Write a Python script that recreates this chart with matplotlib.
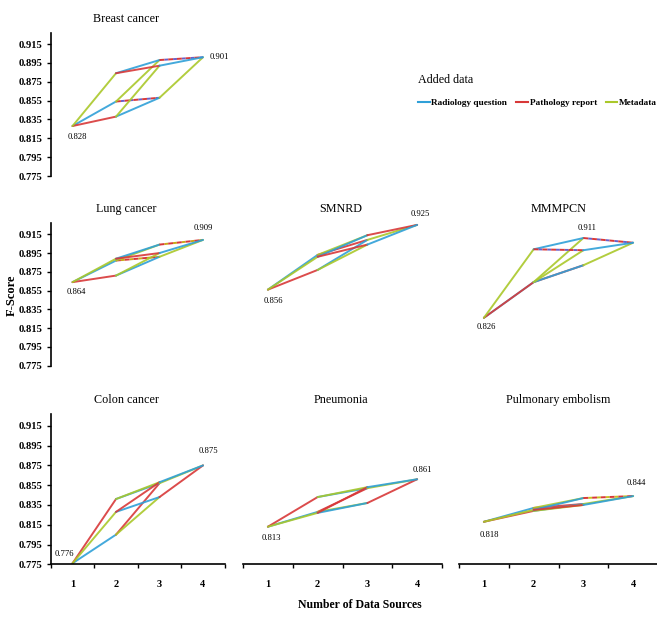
import matplotlib.pyplot as plt
from matplotlib.lines import Line2D

plt.rcParams['font.family'] = ['Liberation Serif', 'DejaVu Serif']

# nodes of the lattice: image only, one added source, two added, all three
nodes = ['I', 'R', 'P', 'M', 'RP', 'RM', 'PM', 'RPM']
n_sources = [1, 2, 2, 2, 3, 3, 3, 4]

# F-score per node (same order as nodes)
breast = [0.828, 0.854, 0.838, 0.884, 0.858, 0.898, 0.892, 0.901]
lung = [0.864, 0.887, 0.871, 0.889, 0.891, 0.904, 0.895, 0.909]
smnrd = [0.856, 0.893, 0.877, 0.891, 0.909, 0.914, 0.904, 0.925]
mmmpcn = [0.826, 0.864, 0.864, 0.899, 0.882, 0.911, 0.898, 0.906]
colon = [0.776, 0.805, 0.841, 0.828, 0.857, 0.843, 0.858, 0.875]
pneumonia = [0.813, 0.828, 0.843, 0.827, 0.852, 0.837, 0.853, 0.861]
pulmonary = [0.818, 0.832, 0.829, 0.830, 0.836, 0.842, 0.835, 0.844]

titles = ['Breast cancer', 'Lung cancer', 'SMNRD', 'MMMPCN',
          'Colon cancer', 'Pneumonia', 'Pulmonary embolism']
scores = [breast, lung, smnrd, mmmpcn, colon, pneumonia, pulmonary]

# dashed (small change) edges per panel
dashed = [
    [('R', 'RP'), ('RM', 'RPM')],
    [('R', 'RP'), ('RM', 'RPM')],
    [],
    [('M', 'PM'), ('RM', 'RPM')],
    [],
    [],
    [('RM', 'RPM')],
]

# edge: from, to, which source was added
edges = [('I', 'R', 'R'), ('I', 'P', 'P'), ('I', 'M', 'M'),
         ('R', 'RP', 'P'), ('R', 'RM', 'M'), ('P', 'RP', 'R'),
         ('P', 'PM', 'M'), ('M', 'RM', 'R'), ('M', 'PM', 'P'),
         ('RP', 'RPM', 'M'), ('RM', 'RPM', 'P'), ('PM', 'RPM', 'R')]

added_keys = ['R', 'P', 'M']
added_labels = ['Radiology question', 'Pathology report', 'Metadata']
colors = {'R': '#2fa0d8', 'P': '#d83838', 'M': '#aac82a'}

yticks = [0.775, 0.795, 0.815, 0.835, 0.855, 0.875, 0.895, 0.915]
xlabels = ['1', '2', '3', '4']

W, H = 657, 617
fig = plt.figure(figsize=(W / 100, H / 100), dpi=100)

# panel boxes in pixels: left, top, right, bottom
boxes = [(50.75, 32.7, 224.75, 176.0),
         (50.75, 223.0, 224.75, 365.7),
         (243.0, 223.0, 442.0, 365.7),
         (459.0, 223.0, 658.0, 365.7),
         (50.75, 414.0, 224.75, 564.3),
         (243.0, 414.0, 442.0, 564.3),
         (459.0, 414.0, 658.0, 564.3)]
left_col = [True, True, False, False, True, False, False]
bottom_row = [False, False, False, False, True, True, True]
title_x = [0.432, 0.435, 0.49, 0.5, 0.435, 0.49, 0.5]
gapcols = ['#6b5fc8', '#c9a818', None, '#6b5fc8', None, None, '#c9c020']
# label offsets in pixels (min label, max label)
lab_off = [((5, -11), (16, 0)), ((4, -10), (0, 12)), ((5, -11), (3, 11)),
           ((2, -9), (4, 10)), ((-8, 9), (5, 14)), ((4, -11), (5, 9)),
           ((5, -13), (3, 13))]

for i in range(len(titles)):
    l, t, r, b = boxes[i]
    ax = fig.add_axes([l / W, 1 - b / H, (r - l) / W, (b - t) / H])
    ax.patch.set_alpha(0)
    val = dict(zip(nodes, scores[i]))
    xs = dict(zip(nodes, n_sources))
    for a, c, k in edges:
        if (a, c) in dashed[i]:
            ax.plot([xs[a], xs[c]], [val[a], val[c]], color=colors[k],
                    lw=1.4, linestyle=(0, (2.5, 2.0)), gapcolor=gapcols[i])
        else:
            ax.plot([xs[a], xs[c]], [val[a], val[c]], color=colors[k],
                    lw=1.4, alpha=0.9, solid_capstyle='round')

    # min and max labels
    vals = scores[i]
    imin = vals.index(min(vals))
    imax = vals.index(max(vals))
    for idx, off in [(imin, lab_off[i][0]), (imax, lab_off[i][1])]:
        ax.annotate('%.3f' % vals[idx], (n_sources[idx], vals[idx]),
                    xytext=off, textcoords='offset pixels',
                    ha='center', va='center', fontsize=6.2)

    ax.set_xlim(0.5, 4.5)
    ax.set_ylim(0.775, 0.927)
    ax.spines['top'].set_visible(False)
    ax.spines['right'].set_visible(False)
    ax.set_title(titles[i], fontsize=8.7, pad=8, x=title_x[i])

    if left_col[i]:
        ax.set_yticks(yticks)
        ax.set_yticklabels(['%.3f' % v for v in yticks])
        ax.tick_params(axis='y', direction='out', length=3, width=1,
                       pad=3, labelsize=7.6)
        for lb in ax.get_yticklabels():
            lb.set_fontweight('bold')
        ax.spines['left'].set_linewidth(1.2)
    else:
        ax.spines['left'].set_visible(False)
        ax.set_yticks([])

    if bottom_row[i]:
        ax.set_xticks([0.5, 1.5, 2.5, 3.5, 4.5])
        ax.set_xticklabels([])
        ax.set_xticks([1, 2, 3, 4], minor=True)
        ax.set_xticklabels(xlabels, minor=True)
        ax.tick_params(axis='x', which='major', direction='out', length=3,
                       width=1)
        ax.tick_params(axis='x', which='minor', length=0, pad=11,
                       labelsize=7.5)
        for lb in ax.get_xticklabels(minor=True):
            lb.set_fontweight('bold')
        ax.spines['bottom'].set_linewidth(1.2)
    else:
        ax.spines['bottom'].set_visible(False)
        ax.set_xticks([])

fig.text(12 / W, 1 - 295 / H, 'F-Score', rotation=90, fontsize=9,
         fontweight='bold', ha='center', va='center')
fig.text(360 / W, 1 - 605 / H, 'Number of Data Sources', fontsize=8.5,
         fontweight='bold', ha='center', va='center')

# legend
fig.text(418 / W, 1 - 80 / H, 'Added data', fontsize=8.7, ha='left',
         va='center')
handles = [Line2D([], [], color=colors[k], lw=1.5) for k in added_keys]
fig.legend(handles, added_labels, loc='center left',
           bbox_to_anchor=(418 / W, 1 - 103 / H), ncol=3, frameon=False,
           handlelength=1.25, handletextpad=0.2, columnspacing=0.95,
           borderaxespad=0, borderpad=0,
           prop={'size': 6.7, 'weight': 'bold'})

fig.savefig('out.png', dpi=100)
